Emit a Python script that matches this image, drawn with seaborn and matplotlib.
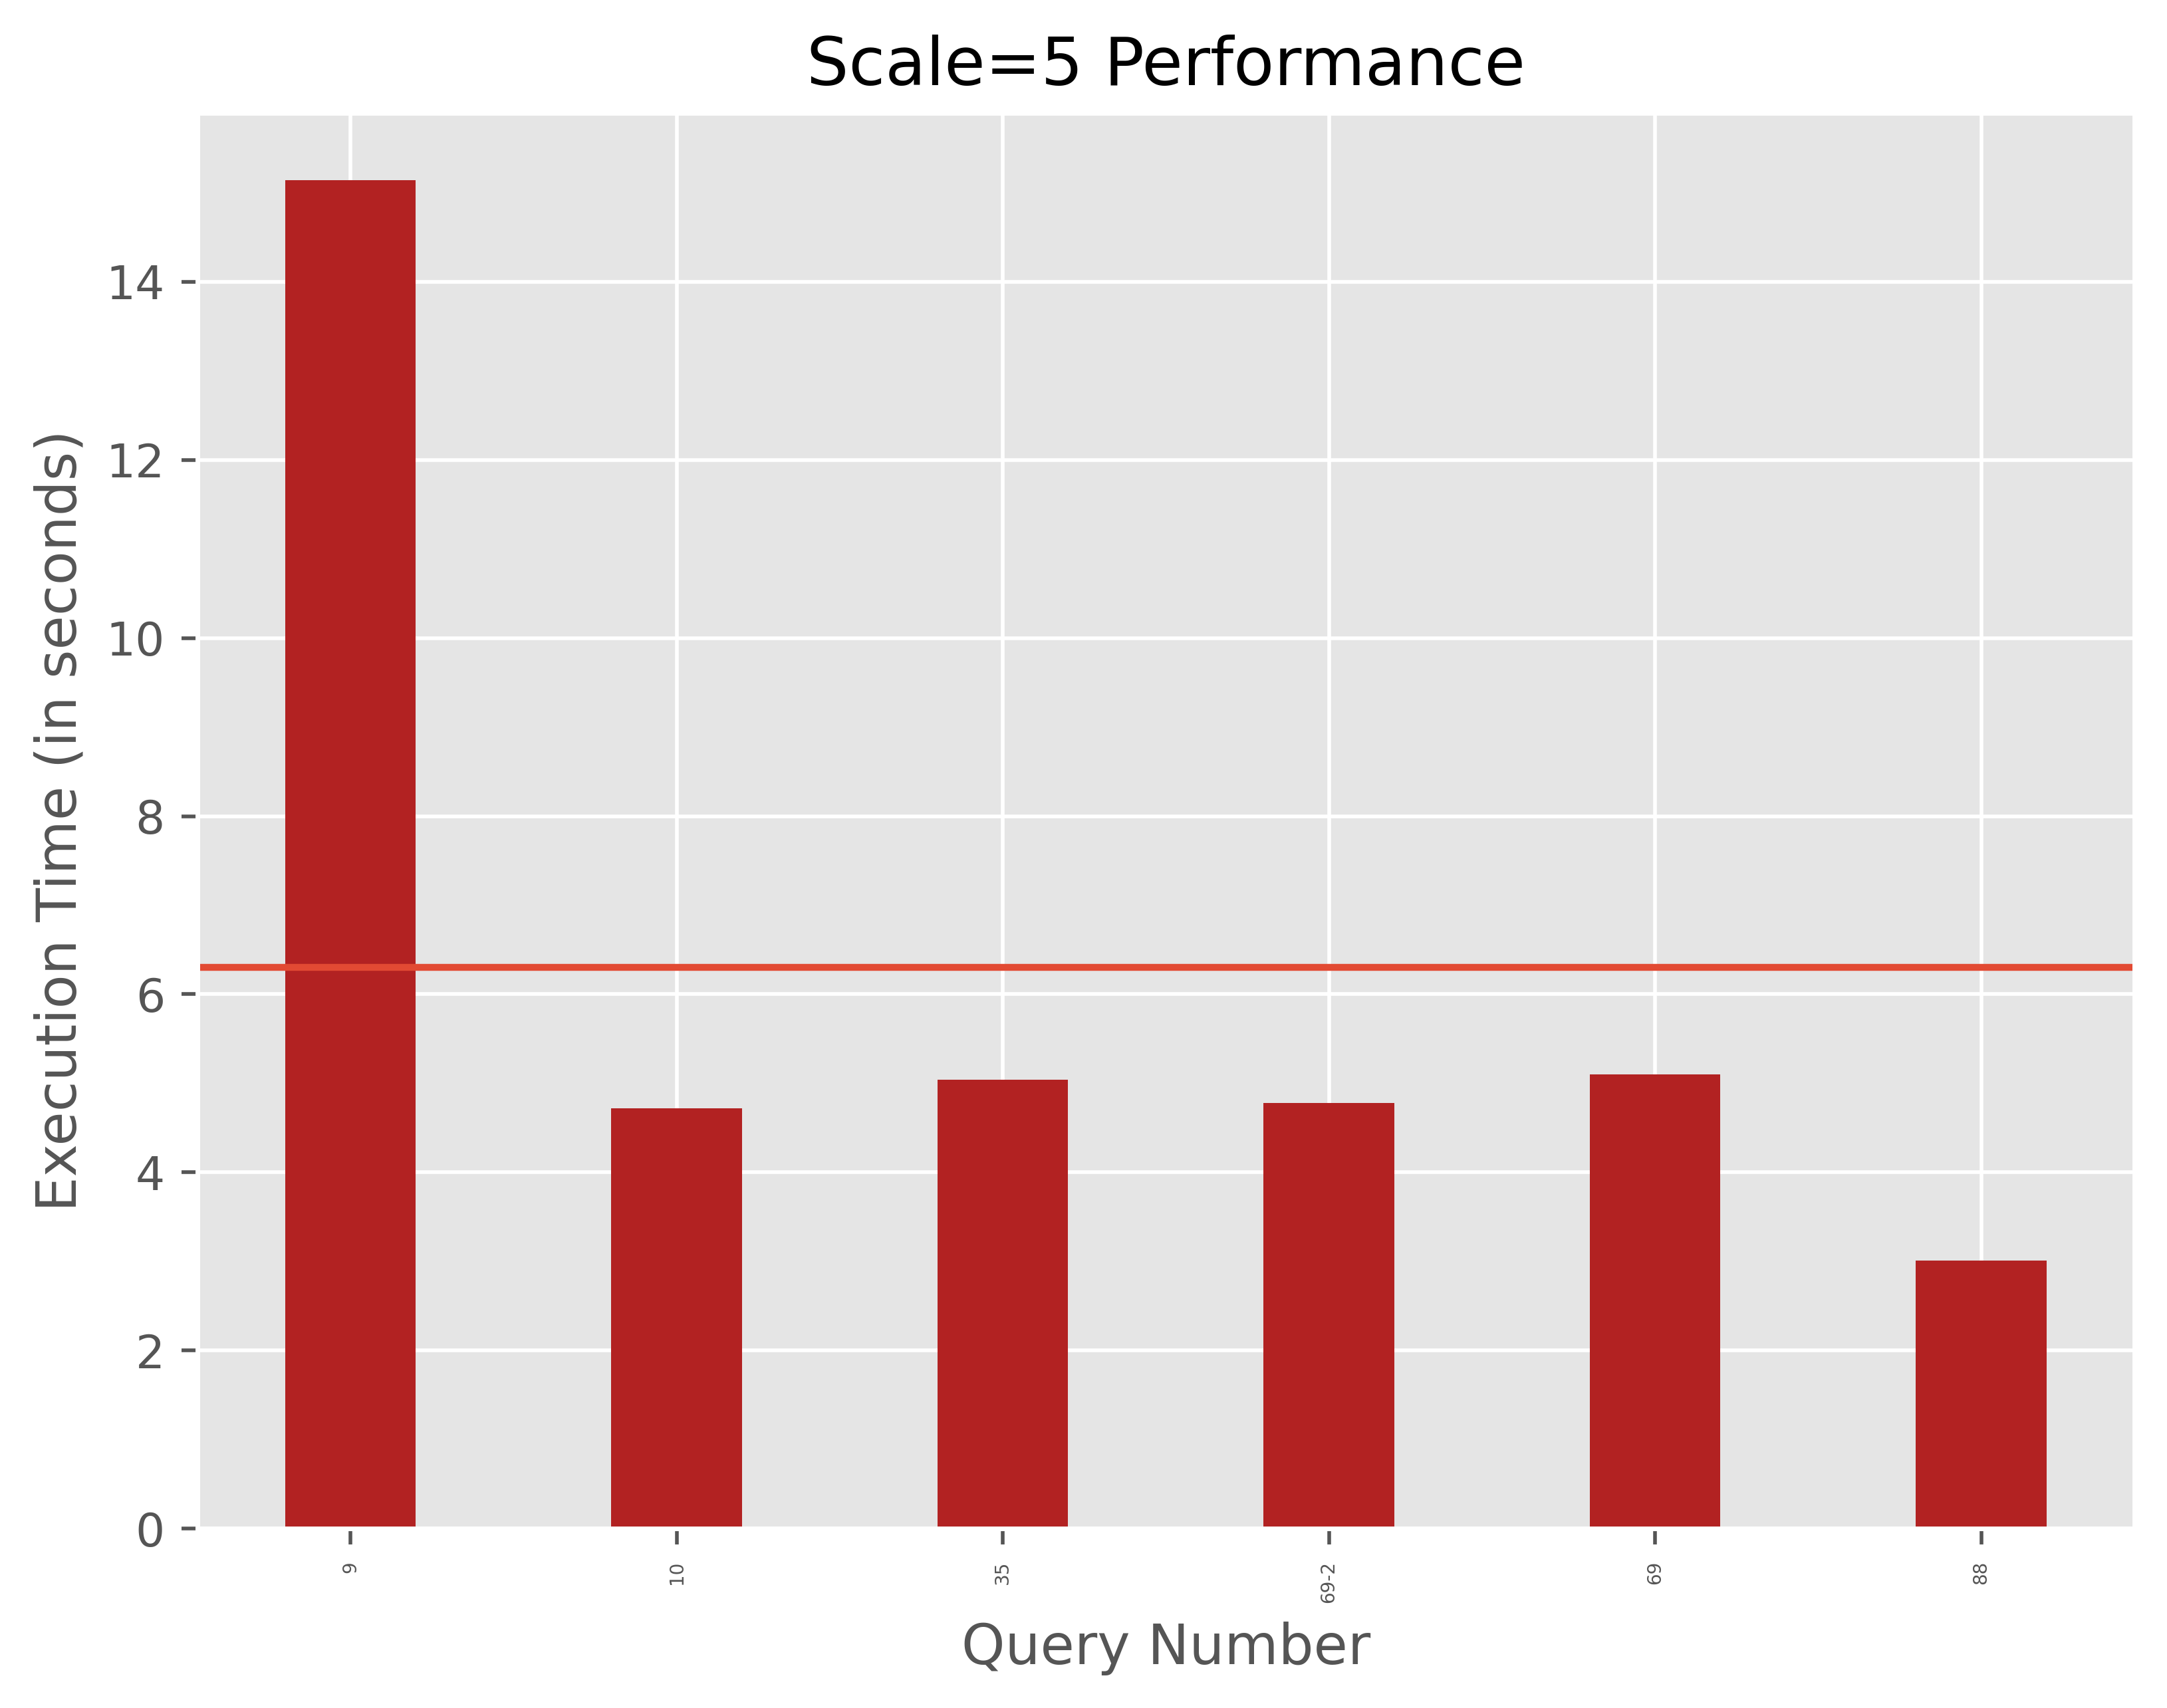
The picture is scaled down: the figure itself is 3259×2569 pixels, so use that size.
import numpy as np
import pandas as pd
import seaborn as sns
import matplotlib.pyplot as plt

# Data
queries = ["9", "10", "35", "69-2", "69", "88"]
exec_times = [15.14, 4.72, 5.04, 4.78, 5.10, 3.01]

df = pd.DataFrame({"query": queries, "time": exec_times})
mean_time = np.mean(exec_times)

plt.style.use("ggplot")

fig, ax = plt.subplots(figsize=(3259 / 500, 2569 / 500), dpi=500)
fig.subplots_adjust(left=0.091, right=0.985, top=0.934, bottom=0.105)

sns.barplot(
    data=df,
    x="query",
    y="time",
    color="firebrick",
    saturation=1,
    width=0.4,
    linewidth=0,
    ax=ax,
)

# mean line
ax.axhline(mean_time, color="#E24A33", linewidth=1.5)

# seaborn switches off the grid on the category axis, put it back
ax.xaxis.grid(True)
ax.set_xlim(-0.47, len(queries) - 1 + 0.47)

ax.tick_params(axis="x", labelsize=4, rotation=90)
ax.set_xlabel("Query Number")
ax.set_ylabel("Execution Time (in seconds)")
ax.set_title("Scale=5 Performance")

plt.savefig("out.png", dpi=500)
